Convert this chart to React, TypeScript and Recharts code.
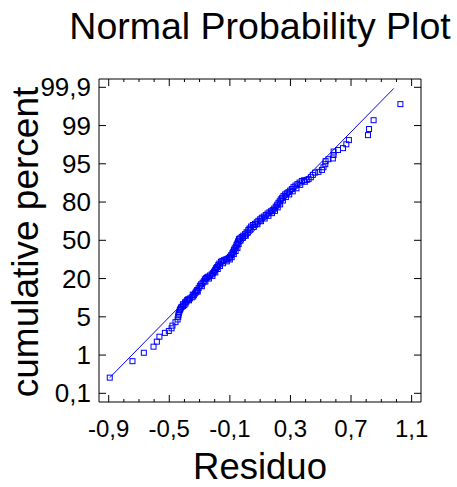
// Normal probability plot of residuals (Statgraphics style)
import { ScatterChart, Scatter, XAxis, YAxis } from 'recharts';

// probability axis: labels sit at equal steps 0..8
const probTicks = [0, 1, 2, 3, 4, 5, 6, 7, 8];
const probLabels = ['0,1', '1', '5', '20', '50', '80', '95', '99', '99,9'];

const xMajorTicks = [-0.9, -0.5, -0.1, 0.3, 0.7, 1.1];
const xMinorTicks = [
  -0.9, -0.8, -0.7, -0.6, -0.5, -0.4, -0.3, -0.2, -0.1, 0, 0.1, 0.2, 0.3, 0.4, 0.5, 0.6, 0.7, 0.8,
  0.9, 1.0, 1.1,
];

const residuo = [
  -0.893, -0.743, -0.668, -0.604, -0.582, -0.565, -0.529, -0.503, -0.485, -0.479,
  -0.459, -0.445, -0.441, -0.44, -0.437, -0.434, -0.43, -0.427, -0.423, -0.418,
  -0.408, -0.4, -0.392, -0.396, -0.387, -0.382, -0.375, -0.364, -0.352, -0.342,
  -0.338, -0.331, -0.325, -0.32, -0.316, -0.306, -0.298, -0.29, -0.28, -0.272,
  -0.265, -0.258, -0.25, -0.243, -0.232, -0.22, -0.212, -0.205, -0.198, -0.192,
  -0.185, -0.177, -0.17, -0.159, -0.15, -0.139, -0.128, -0.117, -0.108, -0.099,
  -0.092, -0.084, -0.078, -0.073, -0.068, -0.061, -0.056, -0.051, -0.046, -0.04,
  -0.034, -0.022, -0.012, 0.0, 0.01, 0.022, 0.03, 0.04, 0.052, 0.066,
  0.077, 0.088, 0.1, 0.111, 0.124, 0.137, 0.149, 0.161, 0.172, 0.183,
  0.193, 0.203, 0.212, 0.221, 0.229, 0.236, 0.245, 0.254, 0.265, 0.276,
  0.287, 0.298, 0.309, 0.32, 0.333, 0.346, 0.36, 0.375, 0.39, 0.408,
  0.42, 0.435, 0.448, 0.463, 0.485, 0.508, 0.518, 0.53, 0.532, 0.551,
  0.58, 0.585, 0.585, 0.614, 0.647, 0.669, 0.686, 0.812, 0.819, 0.849, 1.026,
  // right-hand edge of the dense band
  -0.41, -0.37, -0.345, -0.312, -0.285, -0.262, -0.238, -0.215, -0.196, -0.18,
  -0.165, -0.145, -0.12, -0.1, -0.088, -0.074, -0.062, -0.05, -0.042, -0.03,
  -0.015, 0.005, 0.018, 0.035, 0.058, 0.082, 0.106, 0.13, 0.155, 0.178,
  0.198, 0.216, 0.232, 0.25, 0.27, 0.292, 0.315, 0.34, 0.365, 0.395,
];

// position on the probability axis (0 = 0,1 % ... 8 = 99,9 %)
const probPos = [
  0.41, 0.84, 1.06, 1.22, 1.35, 1.48, 1.58, 1.63, 1.7, 1.77,
  1.86, 1.93, 2.0, 2.04, 2.09, 2.13, 2.18, 2.2, 2.24, 2.26,
  2.28, 2.31, 2.35, 2.38, 2.4, 2.44, 2.46, 2.48, 2.51, 2.53,
  2.57, 2.61, 2.64, 2.67, 2.7, 2.75, 2.81, 2.85, 2.89, 2.93,
  2.98, 3.01, 3.03, 3.05, 3.08, 3.11, 3.14, 3.18, 3.22, 3.27,
  3.3, 3.35, 3.39, 3.44, 3.46, 3.48, 3.5, 3.51, 3.54, 3.57,
  3.61, 3.66, 3.7, 3.75, 3.79, 3.83, 3.88, 3.92, 3.97, 4.03,
  4.05, 4.09, 4.12, 4.16, 4.21, 4.27, 4.31, 4.36, 4.4, 4.43,
  4.47, 4.51, 4.55, 4.59, 4.62, 4.66, 4.7, 4.73, 4.76, 4.79,
  4.83, 4.88, 4.93, 4.98, 5.02, 5.07, 5.11, 5.16, 5.2, 5.23,
  5.26, 5.3, 5.34, 5.39, 5.43, 5.47, 5.51, 5.55, 5.57, 5.58,
  5.6, 5.65, 5.71, 5.77, 5.79, 5.84, 5.91, 5.99, 6.07, 6.12,
  6.14, 6.23, 6.32, 6.36, 6.41, 6.51, 6.62, 6.75, 6.91, 7.14, 7.56,
  2.33, 2.43, 2.58, 2.66, 2.8, 2.92, 3.0, 3.07, 3.16, 3.25,
  3.33, 3.4, 3.45, 3.5, 3.56, 3.64, 3.72, 3.8, 3.9, 3.99,
  4.06, 4.12, 4.2, 4.28, 4.35, 4.42, 4.5, 4.57, 4.64, 4.71,
  4.77, 4.86, 4.94, 5.04, 5.13, 5.2, 5.28, 5.36, 5.45, 5.53,
];

// reference line ends
const fitX = [-0.893, 0.982];
const fitY = [0.41, 7.97];

const X_DOMAIN = [-0.964, 1.162];
const Y_DOMAIN = [-0.227, 8.217];
const BLUE = '#0000ff';
const FONT = '"Liberation Sans", Arial, sans-serif';

const points = residuo.map((x, i) => ({ x, y: probPos[i] }));
const fitData = fitX.map((x, i) => ({ x, y: fitY[i] }));

const fmtX = (v: number) => v.toFixed(1).replace('.', ',');
const fmtY = (v: number) => probLabels[probTicks.indexOf(v)] ?? '';
const isMajorX = (v: number) => xMajorTicks.some((t) => Math.abs(t - v) < 1e-9);

// ticks point into the plot, labels outside
function BottomTick({ x, y, payload }: any) {
  const major = isMajorX(payload.value);
  return (
    <g>
      <line x1={x} x2={x} y1={y} y2={y - (major ? 7 : 3)} stroke="#000" />
      {major && (
        <text x={x} y={y + 18} dy="0.71em" textAnchor="middle" fontSize={24} fontFamily={FONT} fill="#000">
          {fmtX(payload.value)}
        </text>
      )}
    </g>
  );
}

function TopTick({ x, y, payload }: any) {
  const major = isMajorX(payload.value);
  return <line x1={x} x2={x} y1={y} y2={y + (major ? 7 : 3)} stroke="#000" />;
}

function LeftTick({ x, y, payload }: any) {
  return (
    <g>
      <line x1={x} x2={x + 7} y1={y} y2={y} stroke="#000" />
      <text x={x - 8} y={y} dy="0.35em" textAnchor="end" fontSize={26} fontFamily={FONT} fill="#000">
        {fmtY(payload.value)}
      </text>
    </g>
  );
}

function RightTick({ x, y }: any) {
  return <line x1={x} x2={x - 7} y1={y} y2={y} stroke="#000" />;
}

function OpenSquare(props: any) {
  const { cx, cy } = props;
  if (cx == null || cy == null) return <g />;
  return (
    <rect x={cx - 2.5} y={cy - 2.5} width={5} height={5} fill="none" stroke={BLUE} strokeWidth={1} />
  );
}

export default function App() {
  const axisStroke = { stroke: '#000', strokeWidth: 1 };

  return (
    <div style={{ position: 'absolute', left: 0, top: 0, width: 457, height: 487, background: '#fff' }}>
      <ScatterChart width={457} height={487} margin={{ top: 78, right: 35, bottom: 0, left: 0 }}>
        <XAxis xAxisId="x" dataKey="x" type="number" orientation="bottom" height={85} domain={X_DOMAIN}
          allowDataOverflow ticks={xMinorTicks} interval={0} tickSize={0} tickMargin={0}
          tickLine={false} axisLine={axisStroke} tick={<BottomTick />} />
        <XAxis xAxisId="top" dataKey="x" type="number" orientation="top" height={1} domain={X_DOMAIN}
          allowDataOverflow ticks={xMinorTicks} interval={0} tickSize={0} tickMargin={0}
          tickLine={false} axisLine={axisStroke} tick={<TopTick />} />
        <YAxis yAxisId="y" dataKey="y" type="number" orientation="left" width={99} domain={Y_DOMAIN}
          allowDataOverflow ticks={probTicks} interval={0} tickSize={0} tickMargin={0}
          tickLine={false} axisLine={axisStroke} tick={<LeftTick />} />
        <YAxis yAxisId="right" dataKey="y" type="number" orientation="right" width={1} domain={Y_DOMAIN}
          allowDataOverflow ticks={probTicks} interval={0} tickSize={0} tickMargin={0}
          tickLine={false} axisLine={axisStroke} tick={<RightTick />} />

        <Scatter xAxisId="top" yAxisId="right" data={fitData} line={{ stroke: BLUE, strokeWidth: 1 }}
          shape={() => <g />} isAnimationActive={false} legendType="none" />
        <Scatter xAxisId="x" yAxisId="y" data={points} shape={OpenSquare} isAnimationActive={false}
          legendType="none" />
      </ScatterChart>

      <svg width={457} height={487} style={{ position: 'absolute', left: 0, top: 0, pointerEvents: 'none' }}>
        <text x={260} y={39} textAnchor="middle" fontSize={37.5} fontFamily={FONT} fill="#000">
          Normal Probability Plot
        </text>
        <text x={260} y={479} textAnchor="middle" fontSize={36.5} fontFamily={FONT} fill="#000">
          Residuo
        </text>
        <text transform="translate(38,242) rotate(-90)" textAnchor="middle" fontSize={37} fontFamily={FONT} fill="#000">
          cumulative percent
        </text>
      </svg>
    </div>
  );
}
